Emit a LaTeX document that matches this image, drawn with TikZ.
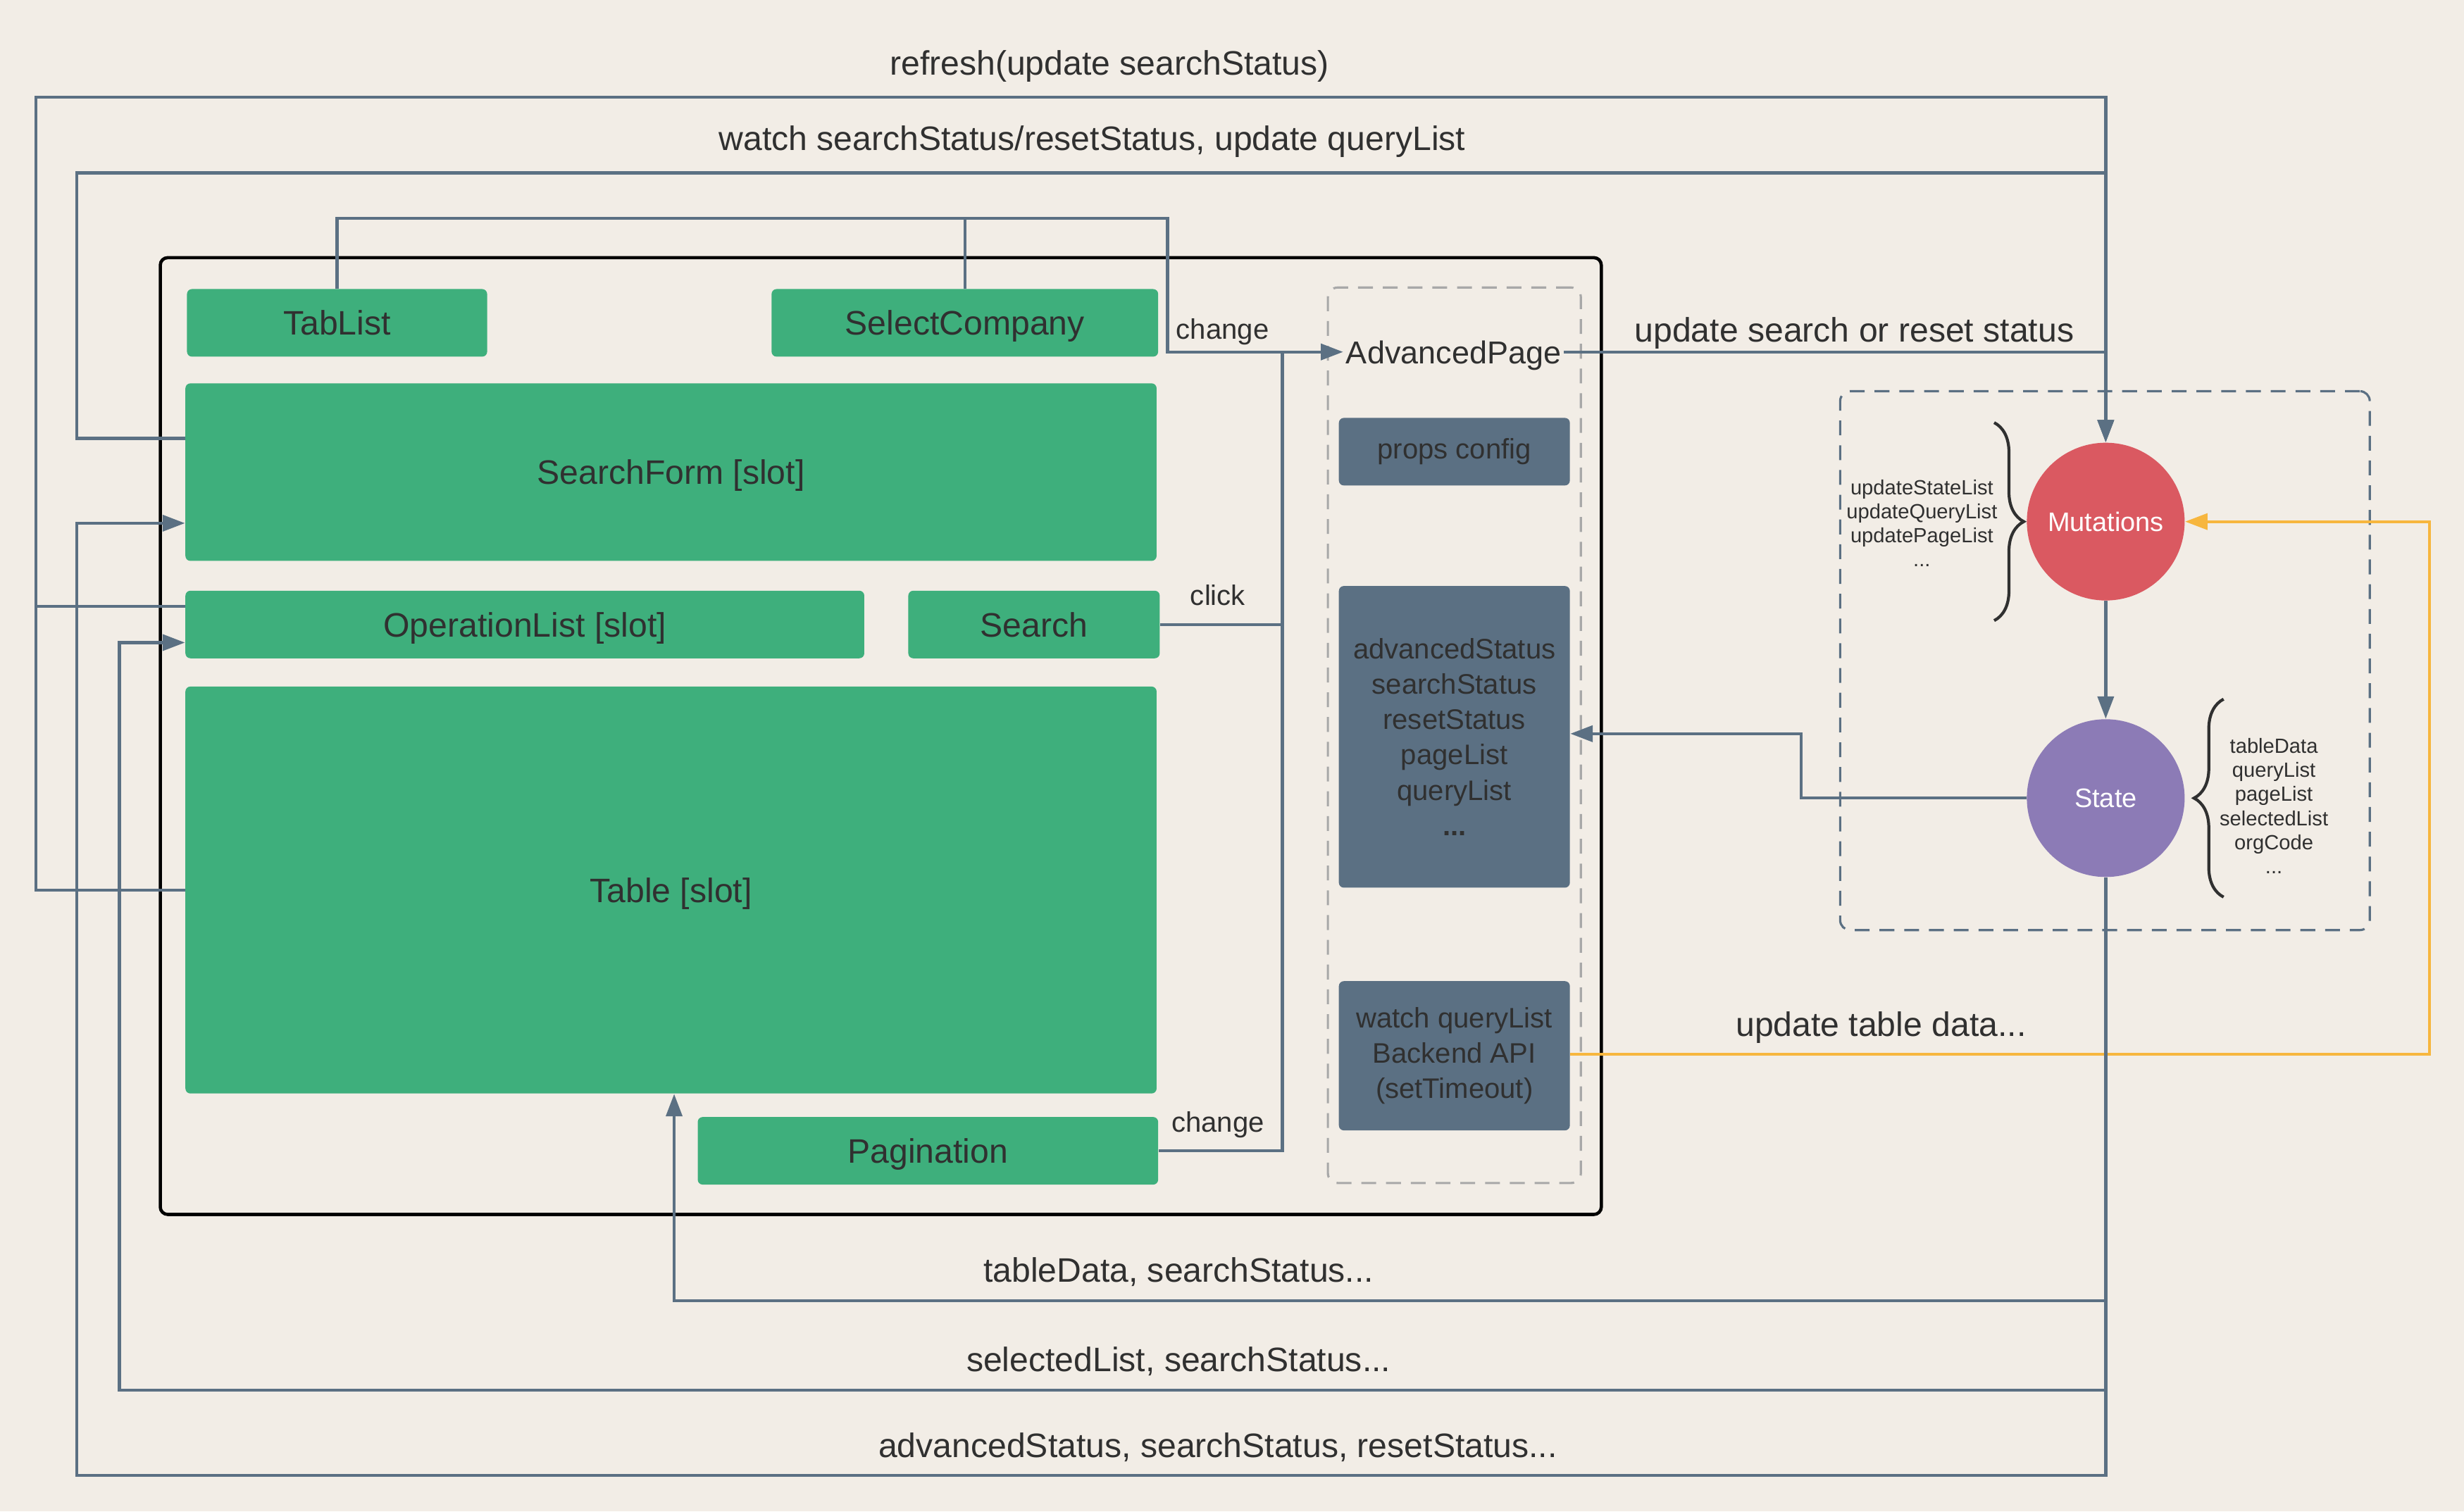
\documentclass[tikz,border=0pt]{standalone}
\usepackage{fontspec}
\setmainfont{Liberation Sans}
\usepackage{tikz}
\usetikzlibrary{arrows.meta,decorations.pathreplacing}
\definecolor{paper}{RGB}{242,237,230}
\definecolor{vuegreen}{RGB}{62,175,124}
\definecolor{slate}{RGB}{91,112,131}
\definecolor{mutred}{RGB}{218,89,97}
\definecolor{statepurple}{RGB}{140,123,182}
\definecolor{amber}{RGB}{247,182,62}
\definecolor{ink}{RGB}{48,48,48}
\definecolor{dashgray}{RGB}{168,168,168}
\tikzset{
    %Define standard arrow tip
    >={Triangle[length=9pt,width=6.5pt]},
    %Define box size in picture units
    wh/.style 2 args={
           minimum width=#1*0.22309mm,
           minimum height=#2*0.22309mm},
    %Define style for boxes
    comp/.style={
           rectangle,
           rounded corners=2pt,
           fill=vuegreen,
           inner sep=0pt,
           text depth=0pt,
           text=ink,
           font=\fontsize{13.7}{16}\selectfont},
    store/.style={
           rectangle,
           rounded corners=2pt,
           fill=slate,
           inner sep=0pt,
           text=ink,
           align=center,
           font=\fontsize{11.4}{14.3}\selectfont},
    shell/.style={
           rectangle,
           rounded corners=3pt,
           draw=black, line width=1.3pt,
           inner sep=0pt},
    lane/.style={
           rectangle,
           rounded corners=4pt,
           draw=#1, line width=0.9pt,
           dash pattern=on 6pt off 4pt,
           inner sep=0pt},
    vuex/.style={
           circle,
           fill=#1,
           minimum size=22.4mm,
           inner sep=0pt,
           text=white,
           font=\fontsize{10.8}{13}\selectfont},
    tag/.style={
           text=ink,
           inner sep=1pt,
           text depth=0pt,
           font=\fontsize{13.7}{16}\selectfont},
    smalltag/.style={
           text=ink,
           inner sep=1pt,
           font=\fontsize{11.4}{14}\selectfont},
    tinytag/.style={
           text=ink,
           align=center,
           inner sep=1pt,
           font=\fontsize{8.3}{9.7}\selectfont},
    % Define arrow style
    link/.style={
           draw=slate,
           line width=1.2pt},
    ylink/.style={
           draw=amber,
           line width=1.1pt},
    curly/.style={
           draw=ink, line width=1.2pt,
           decorate,
           decoration={brace, amplitude=4.2mm}}
}
\begin{document}
\begin{tikzpicture}[x=0.22309mm, y=-0.22309mm]
\fill[paper] (0,0) rectangle (1568,962);
\useasboundingbox (0,0) rectangle (1568,962);
 %frames
\node[shell, wh={917}{609}] (page) at (560.5,468.5) {};
\node[lane=dashgray, wh={161}{570}] (advbox) at (925.5,468) {};
\node[lane=slate, wh={337}{343}] (storebox) at (1339.5,420.5) {};
 %components
\node[comp, wh={191}{43}] (tab) at (214.5,205.5) {TabList};
\node[comp, wh={246}{43}] (company) at (614,205.5) {SelectCompany};
\node[comp, wh={618}{113}] (form) at (427,300.5) {SearchForm [slot]};
\node[comp, wh={432}{43}] (op) at (334,397.5) {OperationList [slot]};
\node[comp, wh={160}{43}] (search) at (658,397.5) {Search};
\node[comp, wh={618}{259}] (table) at (427,566.5) {Table [slot]};
\node[comp, wh={293}{43}] (pager) at (590.5,732.5) {Pagination};
 %advanced page
\node[tag, font=\fontsize{12.8}{15}\selectfont] (adv) at (925,224) {AdvancedPage};
\node[store, wh={147}{43}] (props) at (925.5,287.5) {props config};
\node[store, wh={147}{192}] (status) at (925.5,469) {advancedStatus\\searchStatus\\resetStatus\\pageList\\queryList\\\textbf{...}};
\node[store, wh={147}{95}] (watch) at (925.5,672) {watch queryList\\Backend API\\(setTimeout)};
 %store
\node[vuex=mutred] (mut) at (1340,332) {Mutations};
\node[vuex=statepurple] (state) at (1340,508) {State};
\node[tinytag] (mutlist) at (1223,333) {updateStateList\\updateQueryList\\updatePageList\\...};
\node[tinytag] (statelist) at (1447,513) {tableData\\queryList\\pageList\\selectedList\\orgCode\\...};
\draw[curly] (1269,269) -- (1269,395);
\draw[curly] (1415,571) -- (1415,445);
 %connectors
\draw[link,->] (table.west) -| (23,62) -| (mut.north);
\draw[link] (op.west |- 0,386) -- (23,386);
\draw[link,->] (form.west |- 0,279) -| (49,110) -| (mut.north);
\draw[link,->] (adv.east) -| (mut.north);
\draw[link,->] (tab.north) |- (743,139) |- (adv.west);
\draw[link] (company.north) -- (company.north |- 0,139);
\draw[link] (search.east) -| (816,224);
\draw[link] (pager.east) -| (816,224);
\draw[link,->] (mut) -- (state);
\draw[link,->] (state.west) -| (1146,467) -- (status.east |- 0,467);
\draw[ylink,->] (watch.east |- 0,671) -| (1546,332) -- (mut.east);
\draw[link,->] (state.south) |- (429,828) -- (table.south -| 429,0);
\draw[link,->] (state.south) |- (76,885) |- (op.west |- 0,409);
\draw[link,->] (state.south) |- (49,939) |- (form.west |- 0,333);
 %labels
\node[tag] (lrefresh) at (706,40) {refresh(update searchStatus)};
\node[tag] (lwatch) at (695,88) {watch searchStatus/resetStatus, update queryList};
\node[smalltag] (lchange) at (778,211) {change};
\node[tag] (lupdate) at (1180,210) {update search or reset status};
\node[smalltag] (lclick) at (775,379) {click};
\node[smalltag] (lpager) at (775,716) {change};
\node[tag] (ltable) at (1197,652) {update table data...};
\node[tag] (ldata) at (750,808) {tableData, searchStatus...};
\node[tag] (lselected) at (750,865) {selectedList, searchStatus...};
\node[tag] (lstatus) at (775,920) {advancedStatus, searchStatus, resetStatus...};
\end{tikzpicture}
\end{document}
